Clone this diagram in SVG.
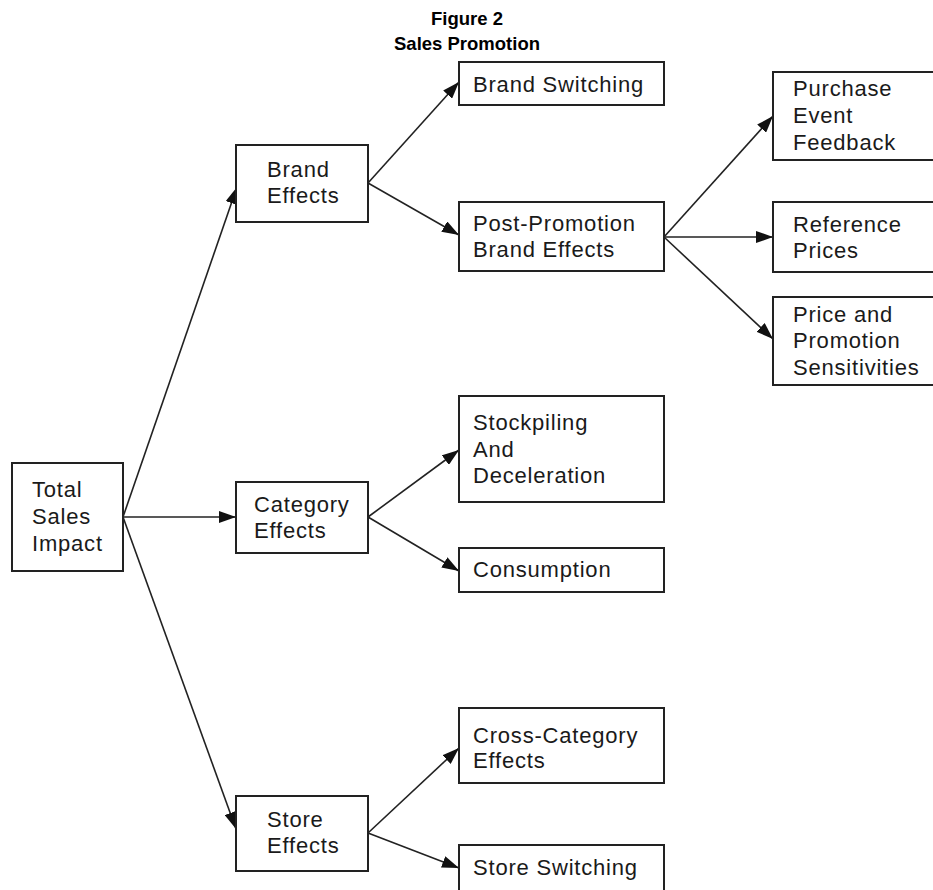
<svg xmlns="http://www.w3.org/2000/svg" width="933" height="890" viewBox="0 0 933 890">
<style>
.box{fill:#fff;stroke:#222;stroke-width:2}
.t{font-family:"Liberation Sans",Arial,sans-serif;font-size:22px;fill:#1a1a1a;letter-spacing:0.8px}
.title{font-family:"Liberation Sans",Arial,sans-serif;font-size:18.5px;font-weight:bold;fill:#000;text-anchor:middle}
.c{stroke:#222;stroke-width:1.6;fill:none;marker-end:url(#ah)}
</style>
<defs>
<marker id="ah" viewBox="0 0 17 12" refX="17" refY="6" markerWidth="17" markerHeight="12" markerUnits="userSpaceOnUse" orient="auto">
<path d="M0,0 L17,6 L0,12 Z" fill="#111"/>
</marker>
</defs>
<rect width="933" height="890" fill="#fff"/>
<g id="title">
<text class="title" x="467" y="25">Figure 2</text>
<text class="title" x="467" y="50">Sales Promotion</text>
</g>
<g id="connectors">
<line class="c" x1="123" y1="517" x2="237" y2="187"/>
<line class="c" x1="123" y1="517" x2="236" y2="517"/>
<line class="c" x1="123" y1="517" x2="236" y2="829"/>
<line class="c" x1="368" y1="183" x2="459" y2="82"/>
<line class="c" x1="368" y1="183" x2="459" y2="235"/>
<line class="c" x1="664" y1="237" x2="773" y2="116"/>
<line class="c" x1="664" y1="237" x2="773" y2="237"/>
<line class="c" x1="664" y1="237" x2="773" y2="339"/>
<line class="c" x1="368" y1="517" x2="459" y2="450"/>
<line class="c" x1="368" y1="517" x2="459" y2="571"/>
<line class="c" x1="368" y1="833" x2="459" y2="748"/>
<line class="c" x1="368" y1="833" x2="459" y2="868"/>
</g>
<g id="total-sales-impact">
<rect class="box" x="12" y="463" width="111" height="108"/>
<text class="t" x="32" y="497">Total</text>
<text class="t" x="32" y="524">Sales</text>
<text class="t" x="32" y="551">Impact</text>
</g>
<g id="brand-effects">
<rect class="box" x="236" y="145" width="132" height="77"/>
<text class="t" x="267" y="177">Brand</text>
<text class="t" x="267" y="203">Effects</text>
</g>
<g id="category-effects">
<rect class="box" x="236" y="482" width="132" height="71"/>
<text class="t" x="254" y="512">Category</text>
<text class="t" x="254" y="538">Effects</text>
</g>
<g id="store-effects">
<rect class="box" x="236" y="796" width="132" height="75"/>
<text class="t" x="267" y="827">Store</text>
<text class="t" x="267" y="853">Effects</text>
</g>
<g id="brand-switching">
<rect class="box" x="459" y="62" width="205" height="43"/>
<text class="t" x="473" y="92">Brand Switching</text>
</g>
<g id="post-promotion">
<rect class="box" x="459" y="202" width="205" height="69"/>
<text class="t" x="473" y="231">Post-Promotion</text>
<text class="t" x="473" y="257">Brand Effects</text>
</g>
<g id="stockpiling">
<rect class="box" x="459" y="396" width="205" height="106"/>
<text class="t" x="473" y="430">Stockpiling</text>
<text class="t" x="473" y="457">And</text>
<text class="t" x="473" y="483">Deceleration</text>
</g>
<g id="consumption">
<rect class="box" x="459" y="548" width="205" height="44"/>
<text class="t" x="473" y="577">Consumption</text>
</g>
<g id="cross-category">
<rect class="box" x="459" y="708" width="205" height="75"/>
<text class="t" x="473" y="743">Cross-Category</text>
<text class="t" x="473" y="768">Effects</text>
</g>
<g id="store-switching">
<rect class="box" x="459" y="845" width="205" height="60"/>
<text class="t" x="473" y="875">Store Switching</text>
</g>
<g id="purchase-event-feedback">
<rect class="box" x="773" y="72" width="170" height="88"/>
<text class="t" x="793" y="96">Purchase</text>
<text class="t" x="793" y="123">Event</text>
<text class="t" x="793" y="150">Feedback</text>
</g>
<g id="reference-prices">
<rect class="box" x="773" y="202" width="170" height="70"/>
<text class="t" x="793" y="232">Reference</text>
<text class="t" x="793" y="258">Prices</text>
</g>
<g id="price-promotion-sensitivities">
<rect class="box" x="773" y="297" width="170" height="88"/>
<text class="t" x="793" y="322">Price and</text>
<text class="t" x="793" y="348">Promotion</text>
<text class="t" x="793" y="375">Sensitivities</text>
</g>
</svg>
